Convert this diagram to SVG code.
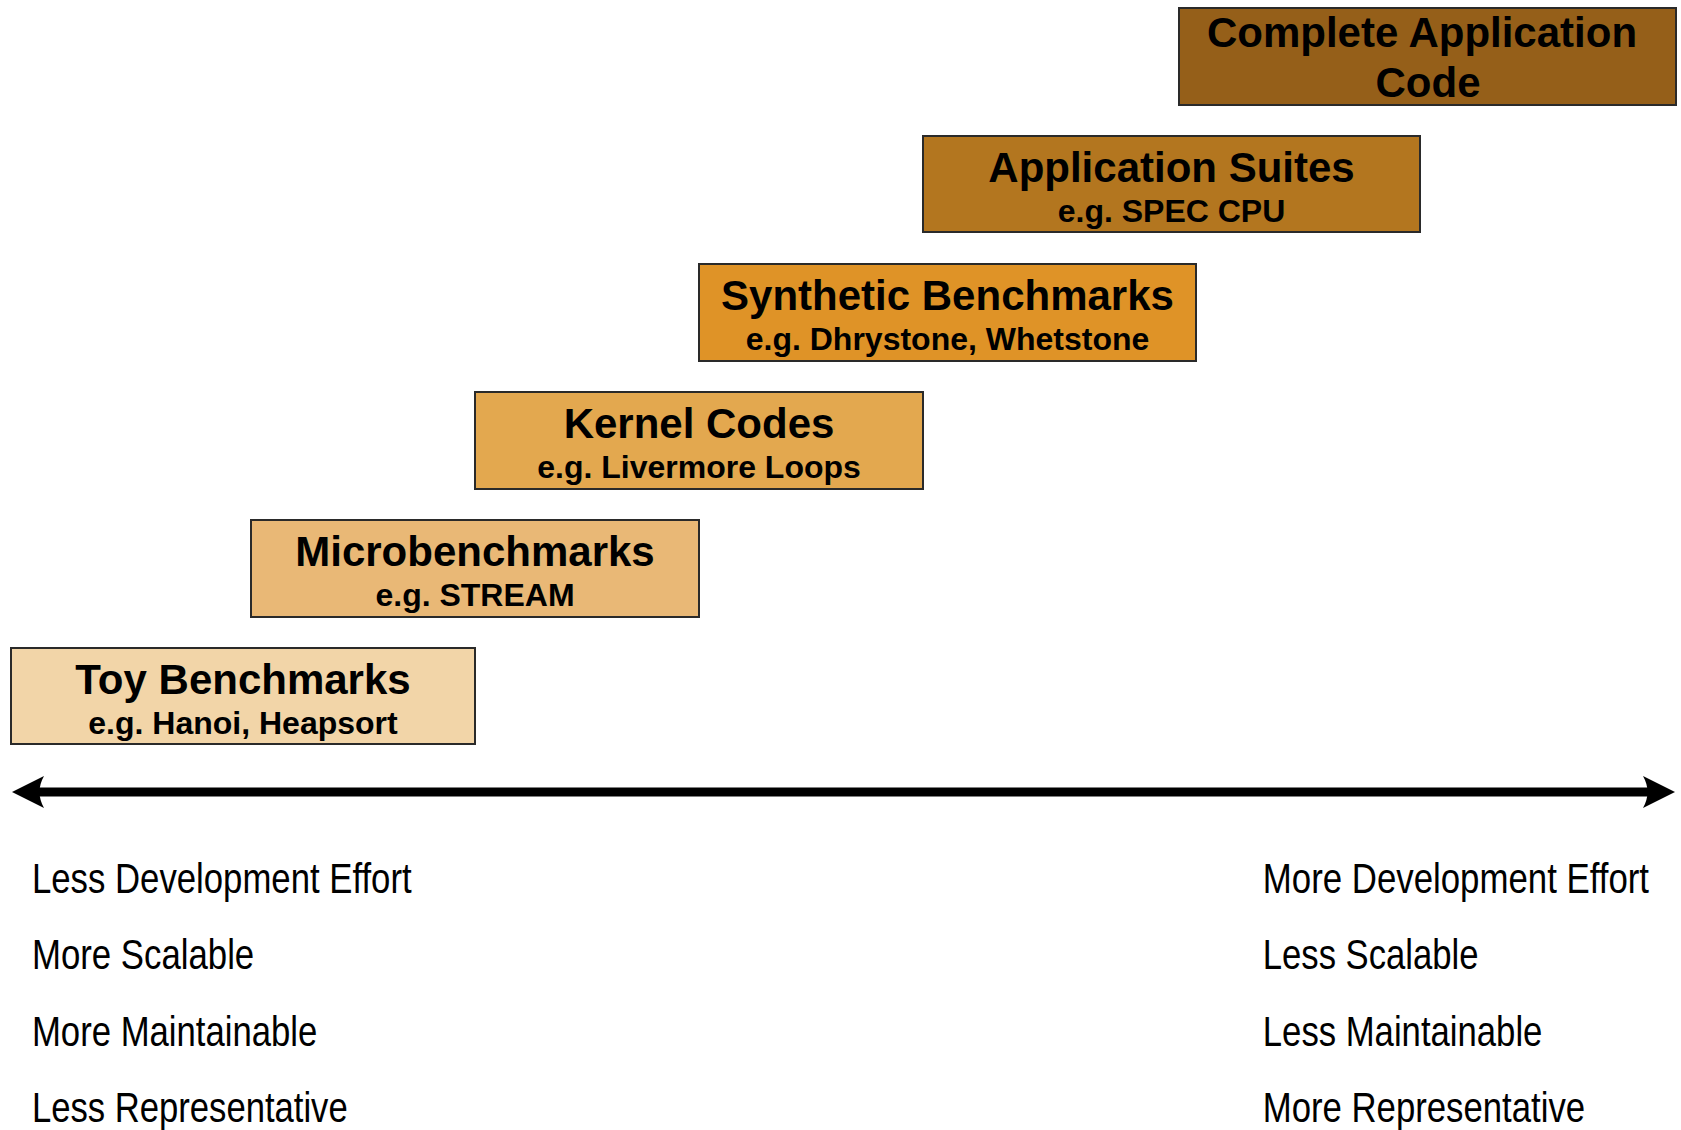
<svg xmlns="http://www.w3.org/2000/svg" width="1681" height="1130" viewBox="0 0 1681 1130">
<style>
.box{stroke:#2a2a2a;stroke-width:2}
.t{font-family:"Liberation Sans",Arial,sans-serif;font-weight:bold;font-size:42px;fill:#000;text-anchor:middle}
.s{font-family:"Liberation Sans",Arial,sans-serif;font-weight:bold;font-size:32px;fill:#000;text-anchor:middle}
.l{font-family:"Liberation Sans",Arial,sans-serif;font-size:42px;fill:#000}
</style>
<defs>
<marker id="ah" viewBox="0 0 32 32" refX="11" refY="16" markerWidth="32" markerHeight="32" markerUnits="userSpaceOnUse" orient="auto-start-reverse">
<path d="M0,0 L32,16 L0,32 Q9,16 0,0 Z" fill="#000"/>
</marker>
</defs>
<g id="complete">
<rect class="box" x="1179" y="8" width="497" height="97" fill="#955F19"/>
<text class="t" x="1422" y="47">Complete Application</text>
<text class="t" x="1428" y="97">Code</text>
</g>
<g id="appsuites">
<rect class="box" x="923" y="136" width="497" height="96" fill="#B3761F"/>
<text class="t" x="1171.5" y="182">Application Suites</text>
<text class="s" x="1171.5" y="222">e.g. SPEC CPU</text>
</g>
<g id="synthetic">
<rect class="box" x="699" y="264" width="497" height="97" fill="#DF9327"/>
<text class="t" x="947.5" y="310">Synthetic Benchmarks</text>
<text class="s" x="947.5" y="350">e.g. Dhrystone, Whetstone</text>
</g>
<g id="kernel">
<rect class="box" x="475" y="392" width="448" height="97" fill="#E3A84F"/>
<text class="t" x="699" y="438">Kernel Codes</text>
<text class="s" x="699" y="478">e.g. Livermore Loops</text>
</g>
<g id="micro">
<rect class="box" x="251" y="520" width="448" height="97" fill="#E9B876"/>
<text class="t" x="475" y="566">Microbenchmarks</text>
<text class="s" x="475" y="606">e.g. STREAM</text>
</g>
<g id="toy">
<rect class="box" x="11" y="648" width="464" height="96" fill="#F2D5A8"/>
<text class="t" x="243" y="694">Toy Benchmarks</text>
<text class="s" x="243" y="734">e.g. Hanoi, Heapsort</text>
</g>
<g id="connectors">
<line x1="33" y1="792" x2="1654" y2="792" stroke="#000" stroke-width="9" marker-start="url(#ah)" marker-end="url(#ah)"/>
</g>
<g id="left-labels" transform="scale(0.82,1)">
<text class="l" x="39" y="893" textLength="463" lengthAdjust="spacingAndGlyphs">Less Development Effort</text>
<text class="l" x="39" y="969" textLength="271" lengthAdjust="spacingAndGlyphs">More Scalable</text>
<text class="l" x="39" y="1046" textLength="348" lengthAdjust="spacingAndGlyphs">More Maintainable</text>
<text class="l" x="39" y="1122" textLength="385" lengthAdjust="spacingAndGlyphs">Less Representative</text>
</g>
<g id="right-labels" transform="scale(0.82,1)">
<text class="l" x="1540" y="893" textLength="471" lengthAdjust="spacingAndGlyphs">More Development Effort</text>
<text class="l" x="1540" y="969" textLength="263" lengthAdjust="spacingAndGlyphs">Less Scalable</text>
<text class="l" x="1540" y="1046" textLength="341" lengthAdjust="spacingAndGlyphs">Less Maintainable</text>
<text class="l" x="1540" y="1122" textLength="393" lengthAdjust="spacingAndGlyphs">More Representative</text>
</g>
</svg>
